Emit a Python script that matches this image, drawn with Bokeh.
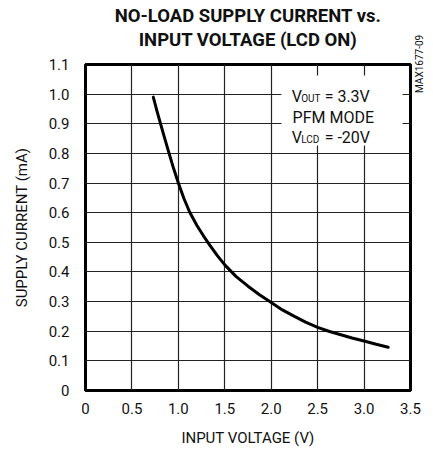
import math
from bokeh.plotting import figure
from bokeh.models import Label, BoxAnnotation, Range1d, FixedTicker, LinearAxis, Title
from bokeh.embed import file_html
from bokeh.resources import INLINE

title_lines = ["NO-LOAD SUPPLY CURRENT vs.", "INPUT VOLTAGE (LCD ON)"]
x_label = "INPUT VOLTAGE (V)"
y_label = "SUPPLY CURRENT (mA)"
x_ticks = [0, 0.5, 1.0, 1.5, 2.0, 2.5, 3.0, 3.5]
x_tick_labels = ["0", "0.5", "1.0", "1.5", "2.0", "2.5", "3.0", "3.5"]
y_ticks = [0, 0.1, 0.2, 0.3, 0.4, 0.5, 0.6, 0.7, 0.8, 0.9, 1.0, 1.1]
y_tick_labels = ["0", "0.1", "0.2", "0.3", "0.4", "0.5", "0.6", "0.7", "0.8", "0.9", "1.0", "1.1"]

vin = [0.73, 0.77, 0.81, 0.85, 0.90, 0.95, 1.00, 1.06, 1.12, 1.20, 1.27, 1.34,
       1.42, 1.50, 1.62, 1.75, 1.87, 2.00, 2.12, 2.25, 2.37, 2.50, 2.62, 2.75,
       2.87, 3.00, 3.13, 3.26]
isupply = [0.99, 0.943, 0.898, 0.854, 0.80, 0.748, 0.70, 0.648, 0.603, 0.557, 0.522, 0.49,
           0.455, 0.424, 0.385, 0.352, 0.324, 0.297, 0.272, 0.25, 0.231, 0.213, 0.20, 0.188,
           0.177, 0.167, 0.156, 0.146]

note_lines = ["PFM MODE"]
code_text = "MAX1677-09"

FONT = "Roboto"
INK = "#111111"

p = figure(frame_width=325, frame_height=326, x_range=Range1d(0, 3.5), y_range=Range1d(0, 1.1),
           output_backend="svg", toolbar_location=None,
           min_border_left=85, min_border_right=14, min_border_top=64, min_border_bottom=54)

p.background_fill_color = "white"
p.border_fill_color = "white"
p.outline_line_color = "black"
p.outline_line_width = 3

for ax, ticks, labels in ((p.xaxis, x_ticks, x_tick_labels), (p.yaxis, y_ticks, y_tick_labels)):
    ax.ticker = FixedTicker(ticks=ticks)
    ax.major_label_overrides = {tk: lb for tk, lb in zip(ticks, labels)}
    ax.axis_line_color = None
    ax.major_tick_line_color = None
    ax.minor_tick_line_color = None
    ax.major_label_text_font = FONT
    ax.major_label_text_font_size = "15px"
    ax.major_label_text_color = INK
    ax.axis_label_text_font = FONT
    ax.axis_label_text_font_size = "15px"
    ax.axis_label_text_font_style = "normal"
    ax.axis_label_text_color = INK

p.xaxis.axis_label = x_label
p.yaxis.axis_label = y_label
p.xaxis.major_label_standoff = 6
p.xaxis.axis_label_standoff = 12
p.yaxis.major_label_standoff = 10
p.yaxis.axis_label_standoff = 15

# vertical figure code at right
code_axis = LinearAxis(ticker=FixedTicker(ticks=[1.004]),
                       major_label_overrides={1.004: code_text},
                       major_label_orientation=math.pi / 2,
                       axis_line_color=None, major_tick_line_color=None,
                       minor_tick_line_color=None, major_label_standoff=3,
                       major_label_text_font=FONT, major_label_text_font_size="10px",
                       major_label_text_color=INK)
p.add_layout(code_axis, "right")

p.xgrid.ticker = FixedTicker(ticks=x_ticks)
p.ygrid.ticker = FixedTicker(ticks=y_ticks)
for g in (p.xgrid, p.ygrid):
    g.grid_line_color = "#222222"
    g.grid_line_width = 1.2

p.line(vin, isupply, line_color="black", line_width=3, line_join="round", line_cap="round")

# annotation box
p.add_layout(BoxAnnotation(left=2.11, right=3.414, bottom=0.827, top=1.063,
                           fill_color="white", fill_alpha=1.0, line_color=None))

def lab(x, y, text, size="16px", **kw):
    p.add_layout(Label(x=x, y=y, text=text, text_font=FONT, text_font_size=size,
                       text_color=INK, text_baseline="alphabetic", **kw))

lab(2.22, 0.9936, "V")
lab(2.22, 0.9936, "OUT", size="10px", x_offset=9.5, y_offset=-2)
lab(2.22, 0.9936, "= 3.3V", x_offset=33)
lab(2.23, 0.9228, note_lines[0])
lab(2.22, 0.8553, "V")
lab(2.22, 0.8553, "LCD", size="10px", x_offset=9.5, y_offset=-2)
lab(2.22, 0.8553, "= -20V", x_offset=33)

# titles: stacked upward from the frame (first added is closest)
p.add_layout(Title(text=" ", text_font=FONT, text_font_size="10px", standoff=1), "above")
p.add_layout(Title(text=title_lines[1], align="center", text_font=FONT, text_font_size="18.5px",
                   text_font_style="bold", text_color=INK, standoff=0), "above")
p.add_layout(Title(text=title_lines[0], align="center", text_font=FONT, text_font_size="18.5px",
                   text_font_style="bold", text_color=INK, standoff=0), "above")

open("out.html", "w").write(file_html(p, INLINE))
